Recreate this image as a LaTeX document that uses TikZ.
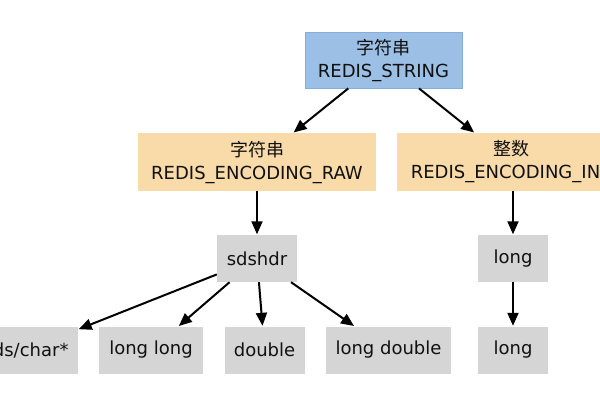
\documentclass[tikz,border=0pt]{standalone}
\usepackage{fontspec}
\setmainfont{DejaVu Sans}
\newfontfamily\cjk{Noto Sans CJK SC}
\usetikzlibrary{arrows.meta}
\definecolor{topblue}{HTML}{9CBFE5}
\definecolor{topedge}{HTML}{86AEDC}
\definecolor{encorange}{HTML}{F9DBAA}
\definecolor{leafgrey}{HTML}{D5D5D5}
\definecolor{txt}{HTML}{111111}
\tikzset{
  box/.style={inner sep=0pt, align=center, text=txt,
    font=\fontsize{18}{23}\selectfont},
  topbox/.style={box, fill=topblue, draw=topedge, line width=0.8pt,
    minimum width=157pt, minimum height=56pt},
  encbox/.style={box, fill=encorange, minimum height=58pt},
  leaf/.style={box, fill=leafgrey, minimum height=47pt},
  conn/.style={line width=2pt, -{Triangle[length=13pt,width=11pt]}, shorten >=0.5pt}
}
\begin{document}
\begin{tikzpicture}[x=1pt,y=-1pt]
\useasboundingbox (0,0) rectangle (600,400);
\clip (0,0) rectangle (600,400);
\fill[white] (0,0) rectangle (600,400);
\node[topbox] (str) at (383.5,60) {{\cjk 字符串}\\REDIS\_STRING};
\node[encbox, minimum width=238pt] (raw) at (257,162) {{\cjk 字符串}\\REDIS\_ENCODING\_RAW};
\node[encbox, minimum width=228pt] (int) at (511,162) {{\cjk 整数}\\REDIS\_ENCODING\_INT};
\node[leaf, minimum width=80pt] (sds) at (257,258.5) {sdshdr};
\node[leaf, minimum width=70pt] (lg1) at (513,258.5) {long};
\node[leaf, minimum width=104pt] (cs) at (26,350) {sds/char*};
\node[leaf, minimum width=104pt] (ll) at (151,350) {long long};
\node[leaf, minimum width=80pt] (dbl) at (264.5,350) {double};
\node[leaf, minimum width=125pt] (ld) at (388.5,350) {long double};
\node[leaf, minimum width=70pt] (lg2) at (513,350) {long};
\draw[conn] (str) -- (raw);
\draw[conn] (str) -- (int);
\draw[conn] (raw) -- (sds);
\draw[conn] (int.south -| lg1) -- (lg1);
\draw[conn] (sds) -- (cs);
\draw[conn] (sds) -- (ll);
\draw[conn] (sds) -- (dbl);
\draw[conn] (sds) -- (ld);
\draw[conn] (lg1) -- (lg2);
\end{tikzpicture}
\end{document}
